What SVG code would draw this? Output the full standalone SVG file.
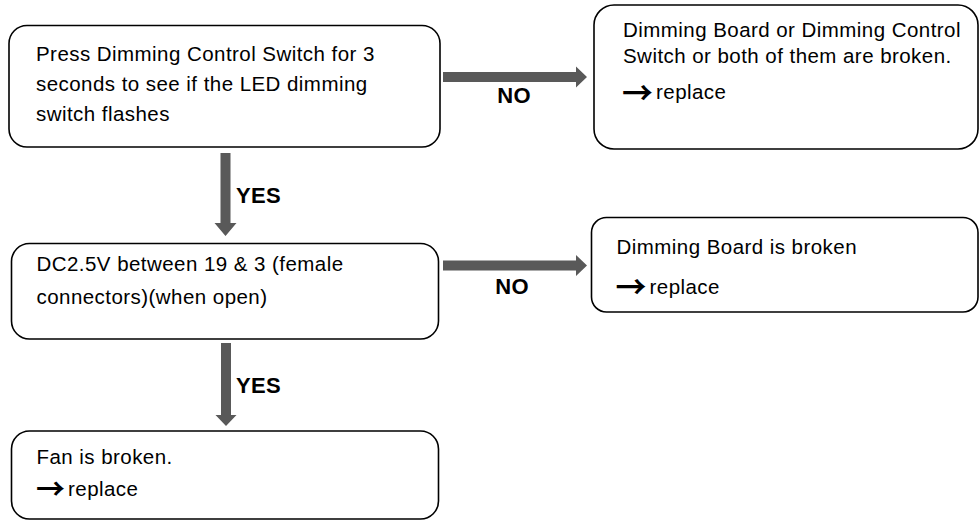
<svg xmlns="http://www.w3.org/2000/svg" width="979" height="523" viewBox="0 0 979 523">
<style>
.box{fill:#ffffff;stroke:#000000;stroke-width:1.6}
.t{font-family:"Liberation Sans",Arial,sans-serif;font-size:20.5px;letter-spacing:0.45px;fill:#000000}
.lbl{font-family:"Liberation Sans",Arial,sans-serif;font-size:22px;font-weight:bold;letter-spacing:0.3px;fill:#000000}
.ar{font-family:"Noto Sans CJK JP","DejaVu Sans",sans-serif;font-size:31px;font-weight:bold;fill:#000000}
.conn{fill:#595959;stroke:none}
</style>
<rect width="979" height="523" fill="#ffffff"/>
<g id="connectors">
<polygon class="conn" points="443,72 576,72 576,66.5 587,77 576,87.5 576,82 443,82"/>
<polygon class="conn" points="443,260.5 576,260.5 576,255 587,265.5 576,276 576,270.5 443,270.5"/>
<polygon class="conn" points="220.5,153 230.5,153 230.5,223 236.5,223 225.5,236 214.5,223 220.5,223"/>
<polygon class="conn" points="221,343 231,343 231,415 236.5,415 226,426 215.5,415 221,415"/>
<text class="lbl" x="514" y="103" text-anchor="middle">NO</text>
<text class="lbl" x="512" y="294" text-anchor="middle">NO</text>
<text class="lbl" x="236" y="203">YES</text>
<text class="lbl" x="236" y="393">YES</text>
</g>
<g id="n1">
<rect class="box" x="9" y="25.5" width="431" height="121.5" rx="18" ry="18"/>
<text class="t" x="36" y="60.5">Press Dimming Control Switch for 3</text>
<text class="t" x="36" y="91">seconds to see if the LED dimming</text>
<text class="t" x="36" y="121">switch flashes</text>
</g>
<g id="n2">
<rect class="box" x="594" y="5" width="384" height="144" rx="20" ry="20"/>
<text class="t" x="623" y="36.5">Dimming Board or Dimming Control</text>
<text class="t" x="623" y="63">Switch or both of them are broken.</text>
<text class="ar" x="622" y="104">→</text>
<text class="t" x="656" y="99">replace</text>
</g>
<g id="n3">
<rect class="box" x="11.5" y="243.5" width="427" height="95.5" rx="18" ry="18"/>
<text class="t" x="36.5" y="270.5">DC2.5V between 19 &amp; 3 (female</text>
<text class="t" x="36.5" y="304">connectors)(when open)</text>
</g>
<g id="n4">
<rect class="box" x="591.5" y="217.5" width="386.5" height="94.5" rx="15" ry="15"/>
<text class="t" x="616.5" y="253.5">Dimming Board is broken</text>
<text class="ar" x="615.5" y="298">→</text>
<text class="t" x="649.5" y="293.5">replace</text>
</g>
<g id="n5">
<rect class="box" x="11.5" y="431" width="427" height="88" rx="18" ry="18"/>
<text class="t" x="36.5" y="464">Fan is broken.</text>
<text class="ar" x="36" y="500" style="font-size:29px">→</text>
<text class="t" x="68" y="495.5">replace</text>
</g>
</svg>
